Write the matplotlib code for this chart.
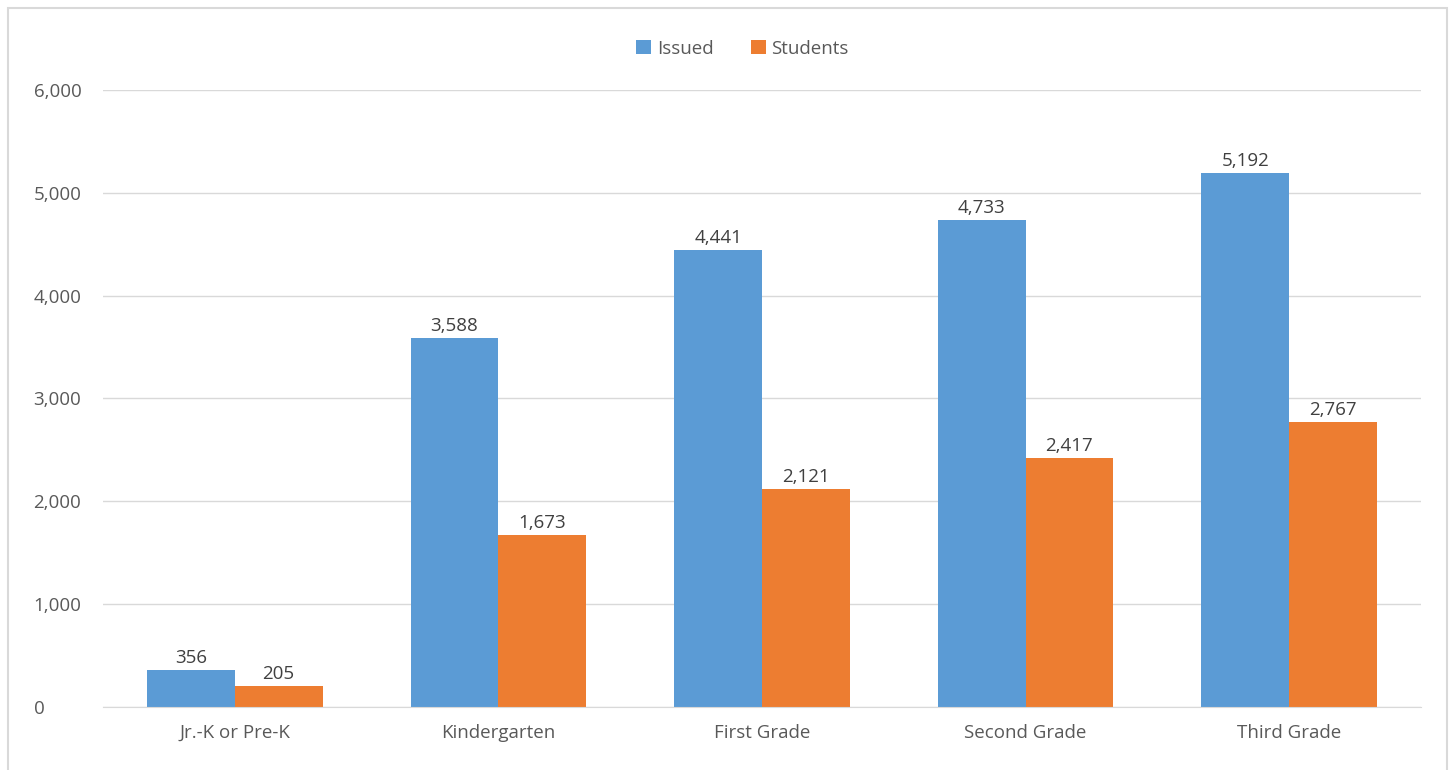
import matplotlib.pyplot as plt
from matplotlib.patches import Rectangle
from matplotlib.ticker import FuncFormatter
import numpy as np

categories = ["Jr.-K or Pre-K", "Kindergarten", "First Grade", "Second Grade", "Third Grade"]
issued = [356, 3588, 4441, 4733, 5192]
students = [205, 1673, 2121, 2417, 2767]

plt.rcParams['font.family'] = ['Open Sans', 'DejaVu Sans']
text_color = "#595959"
fs = 13.5

fig = plt.figure(figsize=(14.5, 7.7), dpi=100)
ax = fig.add_axes([0.071, 0.082, 0.909, 0.801])

# grey frame around the chart
fig.patches.append(Rectangle((8 / 1450, -0.01), 1439 / 1450, 1 - 8 / 770 + 0.01,
                             transform=fig.transFigure, fill=False,
                             edgecolor="#d9d9d9", linewidth=1.5))

x = np.arange(len(categories))
w = 0.333
b1 = ax.bar(x - w / 2, issued, w, color="#5B9BD5", label="Issued")
b2 = ax.bar(x + w / 2, students, w, color="#ED7D31", label="Students")

for bars in (b1, b2):
    for bar in bars:
        h = bar.get_height()
        ax.text(bar.get_x() + bar.get_width() / 2, h + 30, f"{h:,.0f}",
                ha="center", va="bottom", fontsize=fs, color="#404040")

ax.set_xlim(-0.5, 4.5)
ax.set_ylim(0, 6000)
ax.set_yticks(range(0, 6001, 1000))
ax.yaxis.set_major_formatter(FuncFormatter(lambda v, p: f"{v:,.0f}"))
ax.set_xticks(x)
ax.set_xticklabels(categories)
ax.tick_params(axis="both", length=0, labelsize=fs, colors=text_color)
ax.tick_params(axis="y", pad=50)
ax.tick_params(axis="x", pad=12)
for lab in ax.get_yticklabels():
    lab.set_horizontalalignment("left")
ax.grid(axis="y", color="#d9d9d9", linewidth=1)
ax.set_axisbelow(True)
for s in ["top", "right", "left"]:
    ax.spines[s].set_visible(False)
ax.spines["bottom"].set_color("#d9d9d9")

fig.legend(loc="center", bbox_to_anchor=(0.512, 0.937), ncol=2, frameon=False,
           fontsize=fs, labelcolor=text_color, handlelength=0.8, handleheight=0.8,
           handletextpad=0.3, columnspacing=2)

fig.savefig("out.png", dpi=100)
